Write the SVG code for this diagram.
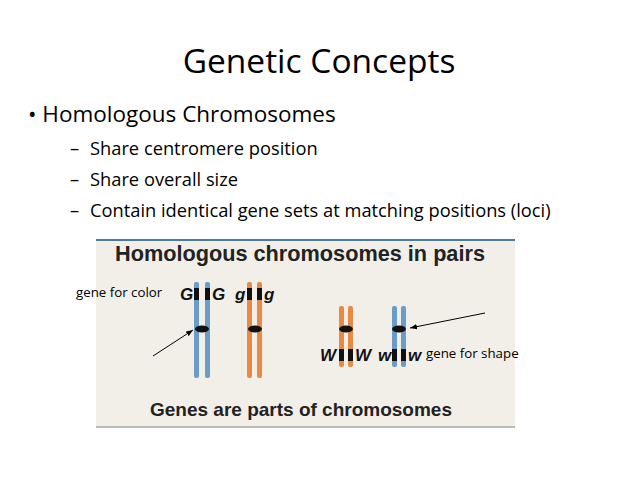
<svg xmlns="http://www.w3.org/2000/svg" width="638" height="479" viewBox="0 0 638 479">
<defs>
<style>
.t{font-family:"Open Sans","Liberation Sans",sans-serif;fill:#000}
.b{font-family:"Liberation Sans",Arial,sans-serif;font-weight:bold;fill:#222}
.g{font-family:"Liberation Sans",Arial,sans-serif;font-weight:bold;font-style:italic;font-size:17px;fill:#111}
.bl{fill:#6a9cc8}.or{fill:#e88a45}
.lab{font-family:"Open Sans","Liberation Sans",sans-serif;font-size:13.3px;fill:#000}
</style>
<marker id="ah" viewBox="0 0 10 10" refX="10" refY="5" markerWidth="7" markerHeight="7" orient="auto"><path d="M0,1 L10,5 L0,9 z" fill="#000"/></marker>
</defs>
<rect width="638" height="479" fill="#fff"/>
<text class="t" x="319" y="73" font-size="33.5" text-anchor="middle">Genetic Concepts</text>
<text class="t" x="28" y="122" font-size="22.5">• Homologous Chromosomes</text>
<g class="t" font-size="18.3">
<text x="70" y="155">–</text><text x="90" y="155">Share centromere position</text>
<text x="70" y="186">–</text><text x="90" y="186">Share overall size</text>
<text x="70" y="217">–</text><text x="90" y="217">Contain identical gene sets at matching positions (loci)</text>
</g>
<g id="panel">
<rect x="96" y="240" width="419" height="188" fill="#f2efe9"/>
<line x1="96" y1="240" x2="515" y2="240" stroke="#4a7aa0" stroke-width="2"/>
<line x1="96" y1="427" x2="515" y2="427" stroke="#aaa" stroke-width="1.5"/>
<text class="b" x="300" y="261" font-size="21.7" text-anchor="middle">Homologous chromosomes in pairs</text>
<text class="b" x="301" y="416" font-size="19" text-anchor="middle">Genes are parts of chromosomes</text>
</g>
<g id="chr1">
<rect class="bl" x="194" y="282" width="5" height="96" rx="2"/><rect class="bl" x="205" y="282" width="5" height="96" rx="2"/>
<rect x="194" y="288" width="5" height="12" fill="#111"/><rect x="205" y="288" width="5" height="12" fill="#111"/>
<ellipse cx="202" cy="329" rx="7" ry="3.5" fill="#111"/>
<text class="g" x="180" y="300">G</text><text class="g" x="212" y="300">G</text>
</g>
<g id="chr2">
<rect class="or" x="247" y="282" width="5" height="96" rx="2"/><rect class="or" x="257" y="282" width="5" height="96" rx="2"/>
<rect x="247" y="288" width="5" height="12" fill="#111"/><rect x="257" y="288" width="5" height="12" fill="#111"/>
<ellipse cx="255" cy="329" rx="7" ry="3.5" fill="#111"/>
<text class="g" x="235" y="300">g</text><text class="g" x="264" y="300">g</text>
</g>
<g id="chr3">
<rect class="or" x="339" y="306" width="5" height="61" rx="2"/><rect class="or" x="348" y="306" width="5" height="61" rx="2"/>
<rect x="339" y="349" width="5" height="12" fill="#111"/><rect x="348" y="349" width="5" height="12" fill="#111"/>
<ellipse cx="346" cy="329" rx="7" ry="3.5" fill="#111"/>
<text class="g" x="320" y="361">W</text><text class="g" x="355" y="361">W</text>
</g>
<g id="chr4">
<rect class="bl" x="392" y="306" width="5" height="61" rx="2"/><rect class="bl" x="401" y="306" width="5" height="61" rx="2"/>
<rect x="392" y="349" width="5" height="12" fill="#111"/><rect x="401" y="349" width="5" height="12" fill="#111"/>
<ellipse cx="399" cy="329" rx="7" ry="3.5" fill="#111"/>
<text class="g" x="378" y="361">w</text><text class="g" x="408" y="361">w</text>
</g>
<g id="labels">
<text class="lab" x="76" y="297">gene for color</text>
<text class="lab" x="426" y="358">gene for shape</text>
</g>
<g id="connectors" stroke="#000" stroke-width="1" fill="none">
<line x1="153" y1="356" x2="193" y2="330" marker-end="url(#ah)"/>
<line x1="485" y1="313" x2="410" y2="328" marker-end="url(#ah)"/>
</g>
</svg>
